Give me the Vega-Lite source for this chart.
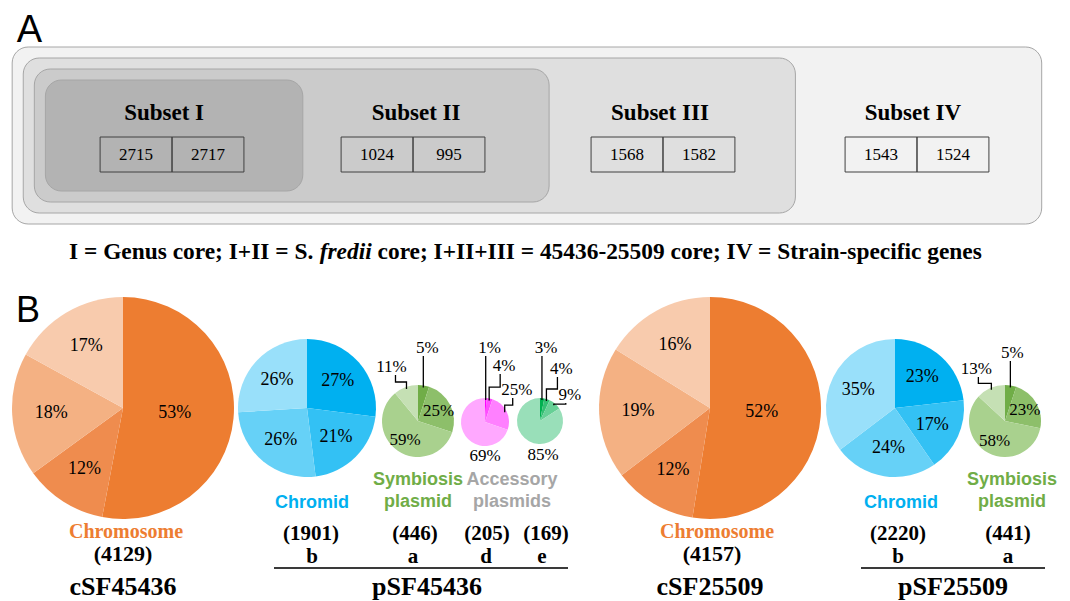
{
"$schema": "https://vega.github.io/schema/vega-lite/v6.json",
"padding": 0,
"background": "white",
"spacing": 0,
"resolve": {"scale": {"color": "independent"}},
"config": {"view": {"stroke": null}},
"datasets": {
 "subsets": [
  {"subset": "I", "level": 1, "sf45436": 2715, "sf25509": 2717},
  {"subset": "II", "level": 2, "sf45436": 1024, "sf25509": 995},
  {"subset": "III", "level": 3, "sf45436": 1568, "sf25509": 1582},
  {"subset": "IV", "level": 4, "sf45436": 1543, "sf25509": 1524}
 ],
 "caption": [
  {"part": 1, "text": "I = Genus core; I+II = S."},
  {"part": 2, "text": "fredii"},
  {"part": 3, "text": "core; I+II+III = 45436-25509 core; IV = Strain-specific genes"}
 ],
 "slices": [
  {"pie": "cSF45436", "subset": "I", "pct": 53}, {"pie": "cSF45436", "subset": "II", "pct": 12}, {"pie": "cSF45436", "subset": "III", "pct": 18}, {"pie": "cSF45436", "subset": "IV", "pct": 17},
  {"pie": "pSF45436b", "subset": "I", "pct": 27}, {"pie": "pSF45436b", "subset": "II", "pct": 21}, {"pie": "pSF45436b", "subset": "III", "pct": 26}, {"pie": "pSF45436b", "subset": "IV", "pct": 26},
  {"pie": "pSF45436a", "subset": "I", "pct": 5}, {"pie": "pSF45436a", "subset": "II", "pct": 25}, {"pie": "pSF45436a", "subset": "III", "pct": 59}, {"pie": "pSF45436a", "subset": "IV", "pct": 11},
  {"pie": "pSF45436d", "subset": "I", "pct": 1}, {"pie": "pSF45436d", "subset": "II", "pct": 4}, {"pie": "pSF45436d", "subset": "III", "pct": 25}, {"pie": "pSF45436d", "subset": "IV", "pct": 69},
  {"pie": "pSF45436e", "subset": "I", "pct": 3}, {"pie": "pSF45436e", "subset": "II", "pct": 4}, {"pie": "pSF45436e", "subset": "III", "pct": 9}, {"pie": "pSF45436e", "subset": "IV", "pct": 85},
  {"pie": "cSF25509", "subset": "I", "pct": 52}, {"pie": "cSF25509", "subset": "II", "pct": 12}, {"pie": "cSF25509", "subset": "III", "pct": 19}, {"pie": "cSF25509", "subset": "IV", "pct": 16},
  {"pie": "pSF25509b", "subset": "I", "pct": 23}, {"pie": "pSF25509b", "subset": "II", "pct": 17}, {"pie": "pSF25509b", "subset": "III", "pct": 24}, {"pie": "pSF25509b", "subset": "IV", "pct": 35},
  {"pie": "pSF25509a", "subset": "I", "pct": 5}, {"pie": "pSF25509a", "subset": "II", "pct": 23}, {"pie": "pSF25509a", "subset": "III", "pct": 58}, {"pie": "pSF25509a", "subset": "IV", "pct": 13}
 ],
 "replicons": [
  {"pie": "cSF45436", "group": "cSF45436", "kind": "Chromosome", "total": 4129, "letter": ""},
  {"pie": "pSF45436b", "group": "pSF45436", "kind": "Chromid", "total": 1901, "letter": "b"},
  {"pie": "pSF45436a", "group": "pSF45436", "kind": "Symbiosis plasmid", "total": 446, "letter": "a"},
  {"pie": "pSF45436d", "group": "pSF45436", "kind": "Accessory plasmids", "total": 205, "letter": "d"},
  {"pie": "pSF45436e", "group": "pSF45436", "kind": "Accessory plasmids", "total": 169, "letter": "e"},
  {"pie": "cSF25509", "group": "cSF25509", "kind": "Chromosome", "total": 4157, "letter": ""},
  {"pie": "pSF25509b", "group": "pSF25509", "kind": "Chromid", "total": 2220, "letter": "b"},
  {"pie": "pSF25509a", "group": "pSF25509", "kind": "Symbiosis plasmid", "total": 441, "letter": "a"}
 ]
},
"vconcat": [
 {
  "width": 1070, "height": 280,
  "encoding": {
   "x": {"field": "px", "type": "quantitative", "axis": null, "scale": {"domain": [-0.2294, 4.1149], "nice": false, "zero": false}},
   "y": {"field": "py", "type": "quantitative", "axis": null, "scale": {"domain": [-135.5, 144.5], "nice": false, "zero": false, "reverse": true}}
  },
  "layer": [
   {"data": {"name": "subsets"},
    "transform": [
     {"calculate": "-0.045*datum.level", "as": "px"},
     {"calculate": "datum.level", "as": "px2"},
     {"calculate": "-(55.5+11*(datum.level-1))", "as": "py"},
     {"calculate": "55.5+11*(datum.level-1)", "as": "py2"}],
    "mark": {"type": "rect", "cornerRadius": 16, "stroke": "#A6A6A6", "strokeWidth": 1},
    "encoding": {"x2": {"field": "px2"}, "y2": {"field": "py2"},
     "color": {"field": "level", "type": "ordinal", "legend": null, "scale": {"domain": [1, 2, 3, 4], "range": ["#B3B3B3", "#CBCBCB", "#DFDFDF", "#F2F2F2"]}},
     "order": {"field": "level", "type": "quantitative", "sort": "descending"}}},
   {"data": {"name": "subsets"},
    "transform": [
     {"calculate": "datum.level + [-0.563, -0.540, -0.550, -0.523][datum.level-1]", "as": "px"},
     {"calculate": "-15.5", "as": "py"},
     {"calculate": "'Subset ' + datum.subset", "as": "title"}],
    "mark": {"type": "text", "font": "Liberation Serif", "fontWeight": "bold", "fontSize": 23, "baseline": "alphabetic", "color": "#000000"},
    "encoding": {"text": {"field": "title", "type": "nominal"}}},
   {"data": {"name": "subsets"},
    "transform": [
     {"fold": ["sf45436", "sf25509"], "as": ["strain", "n"]},
     {"calculate": "datum.strain == 'sf45436' ? 0 : 1", "as": "j"},
     {"calculate": "datum.level + [-0.531, -0.5525, -0.5376, -0.5063][datum.level-1]", "as": "cx"},
     {"calculate": "datum.cx - 0.292 + 0.292*datum.j", "as": "px"},
     {"calculate": "datum.px + 0.292", "as": "px2"},
     {"calculate": "1.5", "as": "py"},
     {"calculate": "36.5", "as": "py2"}],
    "mark": {"type": "rect", "fill": "transparent", "stroke": "#404040", "strokeWidth": 1},
    "encoding": {"x2": {"field": "px2"}, "y2": {"field": "py2"}}},
   {"data": {"name": "subsets"},
    "transform": [
     {"fold": ["sf45436", "sf25509"], "as": ["strain", "n"]},
     {"calculate": "datum.strain == 'sf45436' ? 0 : 1", "as": "j"},
     {"calculate": "datum.level + [-0.531, -0.5525, -0.5376, -0.5063][datum.level-1]", "as": "cx"},
     {"calculate": "datum.cx - 0.146 + 0.292*datum.j", "as": "px"},
     {"calculate": "19", "as": "py"}],
    "mark": {"type": "text", "font": "Liberation Serif", "fontSize": 17, "baseline": "middle", "color": "#000000"},
    "encoding": {"text": {"field": "n", "type": "quantitative", "format": "d"}}},
   {"data": {"values": [{"panel": "A"}]},
    "transform": [{"calculate": "-0.1096", "as": "px"}, {"calculate": "-93.5", "as": "py"}],
    "mark": {"type": "text", "font": "Liberation Sans", "fontSize": 38, "baseline": "alphabetic", "color": "#000000"},
    "encoding": {"text": {"field": "panel", "type": "nominal"}}},
   {"data": {"name": "caption"},
    "transform": [{"filter": "datum.part == 1"}, {"calculate": "0.0508", "as": "px"}, {"calculate": "123.5", "as": "py"}],
    "mark": {"type": "text", "font": "Liberation Serif", "fontWeight": "bold", "fontSize": 23.4, "align": "left", "baseline": "alphabetic", "color": "#000000"},
    "encoding": {"text": {"field": "text", "type": "nominal"}}},
   {"data": {"name": "caption"},
    "transform": [{"filter": "datum.part == 2"}, {"calculate": "1.0686", "as": "px"}, {"calculate": "123.5", "as": "py"}],
    "mark": {"type": "text", "font": "Liberation Serif", "fontWeight": "bold", "fontStyle": "italic", "fontSize": 23.4, "align": "left", "baseline": "alphabetic", "color": "#000000"},
    "encoding": {"text": {"field": "text", "type": "nominal"}}},
   {"data": {"name": "caption"},
    "transform": [{"filter": "datum.part == 3"}, {"calculate": "1.3035", "as": "px"}, {"calculate": "123.5", "as": "py"}],
    "mark": {"type": "text", "font": "Liberation Serif", "fontWeight": "bold", "fontSize": 23.4, "align": "left", "baseline": "alphabetic", "color": "#000000"},
    "encoding": {"text": {"field": "text", "type": "nominal"}}}
  ]
 },
 {
  "hconcat": [
   {
    "width": 246, "height": 321,
    "encoding": {
     "x": {"field": "px", "type": "quantitative", "axis": null, "scale": {"domain": [-123, 123], "nice": false, "zero": false}},
     "y": {"field": "py", "type": "quantitative", "axis": null, "scale": {"domain": [-128, 193], "nice": false, "zero": false, "reverse": true}}
    },
    "layer": [
     {"data": {"name": "slices"},
      "transform": [{"filter": "datum.pie == 'cSF45436'"}, {"stack": "pct", "groupby": ["pie"], "sort": [{"field": "subset", "order": "ascending"}], "offset": "normalize", "as": ["t0", "t1"]}, {"calculate": "0", "as": "px"}, {"calculate": "0", "as": "py"}],
      "mark": {"type": "arc", "outerRadius": 111},
      "encoding": {"theta": {"field": "t0", "type": "quantitative", "scale": {"domain": [0, 1]}}, "theta2": {"field": "t1"},
       "color": {"field": "subset", "type": "nominal", "legend": null, "scale": {"domain": ["I", "II", "III", "IV"], "range": ["#ED7D31", "#EF8C4E", "#F4B183", "#F8CBAD"]}}}},
     {"data": {"name": "slices"},
      "transform": [{"filter": "datum.pie == 'cSF45436'"}, {"stack": "pct", "groupby": ["pie"], "sort": [{"field": "subset", "order": "ascending"}], "offset": "normalize", "as": ["t0", "t1"]}, {"calculate": "PI*(datum.t0+datum.t1)", "as": "a"}, {"calculate": "(datum.pct > 40 ? 52 : 72)*sin(datum.a)", "as": "px"}, {"calculate": "-(datum.pct > 40 ? 52 : 72)*cos(datum.a)", "as": "py"}, {"calculate": "datum.pct + '%'", "as": "label"}],
      "mark": {"type": "text", "font": "Liberation Serif", "fontSize": 18, "baseline": "middle", "color": "#000000"},
      "encoding": {"text": {"field": "label", "type": "nominal"}}},
     {"data": {"name": "replicons"},
      "transform": [{"filter": "datum.pie == 'cSF45436'"}, {"calculate": "3", "as": "px"}, {"calculate": "130", "as": "py"}],
      "mark": {"type": "text", "font": "Liberation Serif", "fontWeight": "bold", "fontSize": 20, "baseline": "alphabetic", "color": "#ED7D31"},
      "encoding": {"text": {"field": "kind", "type": "nominal"}}},
     {"data": {"name": "replicons"},
      "transform": [{"filter": "datum.pie == 'cSF45436'"}, {"calculate": "'(' + datum.total + ')'", "as": "count"}, {"calculate": "0", "as": "px"}, {"calculate": "153", "as": "py"}],
      "mark": {"type": "text", "font": "Liberation Serif", "fontWeight": "bold", "fontSize": 22, "baseline": "alphabetic", "color": "#000000"},
      "encoding": {"text": {"field": "count", "type": "nominal"}}},
     {"data": {"name": "replicons"},
      "transform": [{"filter": "datum.group == 'cSF45436'"}, {"aggregate": [{"op": "count", "as": "n"}], "groupby": ["group"]}, {"calculate": "0", "as": "px"}, {"calculate": "187", "as": "py"}],
      "mark": {"type": "text", "font": "Liberation Serif", "fontWeight": "bold", "fontSize": 26, "baseline": "alphabetic", "color": "#000000"},
      "encoding": {"text": {"field": "group", "type": "nominal"}}},
     {"data": {"values": [{"panel": "B"}]},
      "transform": [{"calculate": "-95", "as": "px"}, {"calculate": "-86", "as": "py"}],
      "mark": {"type": "text", "font": "Liberation Sans", "fontSize": 36, "baseline": "alphabetic", "color": "#000000"},
      "encoding": {"text": {"field": "panel", "type": "nominal"}}}
    ]
   },
   {
    "width": 122, "height": 321,
    "encoding": {
     "x": {"field": "px", "type": "quantitative", "axis": null, "scale": {"domain": [-61, 61], "nice": false, "zero": false}},
     "y": {"field": "py", "type": "quantitative", "axis": null, "scale": {"domain": [-128, 193], "nice": false, "zero": false, "reverse": true}}
    },
    "layer": [
     {"data": {"name": "slices"},
      "transform": [{"filter": "datum.pie == 'pSF45436b'"}, {"stack": "pct", "groupby": ["pie"], "sort": [{"field": "subset", "order": "ascending"}], "offset": "normalize", "as": ["t0", "t1"]}, {"calculate": "0", "as": "px"}, {"calculate": "0", "as": "py"}],
      "mark": {"type": "arc", "outerRadius": 69},
      "encoding": {"theta": {"field": "t0", "type": "quantitative", "scale": {"domain": [0, 1]}}, "theta2": {"field": "t1"},
       "color": {"field": "subset", "type": "nominal", "legend": null, "scale": {"domain": ["I", "II", "III", "IV"], "range": ["#00B0F0", "#33C1F4", "#66D1F7", "#99E0FA"]}}}},
     {"data": {"name": "slices"},
      "transform": [{"filter": "datum.pie == 'pSF45436b'"}, {"stack": "pct", "groupby": ["pie"], "sort": [{"field": "subset", "order": "ascending"}], "offset": "normalize", "as": ["t0", "t1"]}, {"calculate": "PI*(datum.t0+datum.t1)", "as": "a"}, {"calculate": "41*sin(datum.a)", "as": "px"}, {"calculate": "-41*cos(datum.a)", "as": "py"}, {"calculate": "datum.pct + '%'", "as": "label"}],
      "mark": {"type": "text", "font": "Liberation Serif", "fontSize": 18, "baseline": "middle", "color": "#000000"},
      "encoding": {"text": {"field": "label", "type": "nominal"}}},
     {"data": {"name": "replicons"},
      "transform": [{"filter": "datum.pie == 'pSF45436b'"}, {"calculate": "5", "as": "px"}, {"calculate": "100", "as": "py"}],
      "mark": {"type": "text", "font": "Liberation Sans", "fontWeight": "bold", "fontSize": 18, "baseline": "alphabetic", "color": "#00B0F0"},
      "encoding": {"text": {"field": "kind", "type": "nominal"}}},
     {"data": {"name": "replicons"},
      "transform": [{"filter": "datum.pie == 'pSF45436b'"}, {"calculate": "'(' + datum.total + ')'", "as": "count"}, {"calculate": "4", "as": "px"}, {"calculate": "132", "as": "py"}],
      "mark": {"type": "text", "font": "Liberation Serif", "fontWeight": "bold", "fontSize": 21, "baseline": "alphabetic", "color": "#000000"},
      "encoding": {"text": {"field": "count", "type": "nominal"}}},
     {"data": {"name": "replicons"},
      "transform": [{"filter": "datum.pie == 'pSF45436b'"}, {"calculate": "5", "as": "px"}, {"calculate": "155", "as": "py"}],
      "mark": {"type": "text", "font": "Liberation Serif", "fontWeight": "bold", "fontSize": 21, "baseline": "alphabetic", "color": "#000000"},
      "encoding": {"text": {"field": "letter", "type": "nominal"}}},
     {"data": {"name": "replicons"},
      "transform": [{"filter": "datum.group == 'pSF45436'"}, {"aggregate": [{"op": "count", "as": "n"}], "groupby": ["group"]}, {"filter": "datum.n > 1"}, {"calculate": "-33", "as": "px"}, {"calculate": "261", "as": "px2"}, {"calculate": "160", "as": "py"}],
      "mark": {"type": "rule", "color": "#3A3A3A", "strokeWidth": 2},
      "encoding": {"x2": {"field": "px2"}}},
     {"data": {"name": "replicons"},
      "transform": [{"filter": "datum.group == 'pSF45436'"}, {"aggregate": [{"op": "count", "as": "n"}], "groupby": ["group"]}, {"calculate": "120", "as": "px"}, {"calculate": "187", "as": "py"}],
      "mark": {"type": "text", "font": "Liberation Serif", "fontWeight": "bold", "fontSize": 26, "baseline": "alphabetic", "color": "#000000"},
      "encoding": {"text": {"field": "group", "type": "nominal"}}}
    ]
   },
   {
    "width": 100, "height": 321,
    "encoding": {
     "x": {"field": "px", "type": "quantitative", "axis": null, "scale": {"domain": [-50, 50], "nice": false, "zero": false}},
     "y": {"field": "py", "type": "quantitative", "axis": null, "scale": {"domain": [-141, 180], "nice": false, "zero": false, "reverse": true}}
    },
    "layer": [
     {"data": {"name": "slices"},
      "transform": [{"filter": "datum.pie == 'pSF45436a'"}, {"stack": "pct", "groupby": ["pie"], "sort": [{"field": "subset", "order": "ascending"}], "offset": "normalize", "as": ["t0", "t1"]}, {"calculate": "0", "as": "px"}, {"calculate": "0", "as": "py"}],
      "mark": {"type": "arc", "outerRadius": 36},
      "encoding": {"theta": {"field": "t0", "type": "quantitative", "scale": {"domain": [0, 1]}}, "theta2": {"field": "t1"},
       "color": {"field": "subset", "type": "nominal", "legend": null, "scale": {"domain": ["I", "II", "III", "IV"], "range": ["#70AD47", "#8DBF6A", "#A9D18E", "#C5E0B4"]}}}},
     {"data": {"name": "slices"},
      "transform": [{"filter": "datum.pie == 'pSF45436a'"}, {"stack": "pct", "groupby": ["pie"], "sort": [{"field": "subset", "order": "ascending"}], "offset": "normalize", "as": ["t0", "t1"]}, {"calculate": "PI*(datum.t0+datum.t1)", "as": "a"}, {"filter": "datum.pct >= 15"}, {"calculate": "23*sin(datum.a)", "as": "px"}, {"calculate": "-23*cos(datum.a)", "as": "py"}, {"calculate": "datum.pct + '%'", "as": "label"}],
      "mark": {"type": "text", "font": "Liberation Serif", "fontSize": 17, "baseline": "middle", "color": "#000000"},
      "encoding": {"text": {"field": "label", "type": "nominal"}}},
     {"data": {"name": "slices"},
      "transform": [{"filter": "datum.pie == 'pSF45436a'"}, {"stack": "pct", "groupby": ["pie"], "sort": [{"field": "subset", "order": "ascending"}], "offset": "normalize", "as": ["t0", "t1"]}, {"calculate": "PI*(datum.t0+datum.t1)", "as": "a"}, {"filter": "datum.pct < 15"}, {"calculate": "min(datum.a, 2*PI - datum.a)", "as": "dist"}, {"window": [{"op": "row_number", "as": "rn"}], "sort": [{"field": "dist", "order": "ascending"}], "groupby": ["pie"]}, {"calculate": "datum.a < PI ? 1 : -1", "as": "side"}, {"calculate": "34*sin(datum.a)", "as": "sx"}, {"calculate": "-34*cos(datum.a)", "as": "sy"}, {"calculate": "datum.sx + datum.side*[4,15,12][datum.rn-1]", "as": "lx"}, {"calculate": "[-73,-54,-30][datum.rn-1]", "as": "ly"}, {"calculate": "datum.lx", "as": "px"}, {"calculate": "datum.ly", "as": "py"}, {"calculate": "datum.pct + '%'", "as": "label"}],
      "mark": {"type": "text", "font": "Liberation Serif", "fontSize": 17, "baseline": "middle", "color": "#000000"},
      "encoding": {"text": {"field": "label", "type": "nominal"}}},
     {"data": {"name": "slices"},
      "transform": [{"filter": "datum.pie == 'pSF45436a'"}, {"stack": "pct", "groupby": ["pie"], "sort": [{"field": "subset", "order": "ascending"}], "offset": "normalize", "as": ["t0", "t1"]}, {"calculate": "PI*(datum.t0+datum.t1)", "as": "a"}, {"filter": "datum.pct < 15"}, {"calculate": "min(datum.a, 2*PI - datum.a)", "as": "dist"}, {"window": [{"op": "row_number", "as": "rn"}], "sort": [{"field": "dist", "order": "ascending"}], "groupby": ["pie"]}, {"calculate": "datum.a < PI ? 1 : -1", "as": "side"}, {"calculate": "34*sin(datum.a)", "as": "sx"}, {"calculate": "-34*cos(datum.a)", "as": "sy"}, {"calculate": "datum.sx + datum.side*[4,15,12][datum.rn-1]", "as": "lx"}, {"calculate": "[-73,-54,-30][datum.rn-1]", "as": "ly"}, {"calculate": "(datum.sy + datum.ly + 8)/2", "as": "ey"}, {"calculate": "datum.lx - datum.side*4", "as": "vx"}, {"calculate": "[0,1,2,3]", "as": "pt"}, {"flatten": ["pt"]}, {"calculate": "datum.pt < 2 ? datum.sx : datum.vx", "as": "px"}, {"calculate": "datum.pt == 0 ? datum.sy : (datum.pt == 3 ? datum.ly + 8 : datum.ey)", "as": "py"}],
      "mark": {"type": "line", "color": "#000000", "strokeWidth": 1.3},
      "encoding": {"detail": {"field": "subset", "type": "nominal"}, "order": {"field": "pt", "type": "quantitative"}}},
     {"data": {"name": "replicons"},
      "transform": [{"filter": "datum.pie == 'pSF45436a'"}, {"calculate": "0", "as": "px"}, {"calculate": "64", "as": "py"}],
      "mark": {"type": "text", "font": "Liberation Sans", "fontWeight": "bold", "fontSize": 18, "baseline": "alphabetic", "lineBreak": " ", "lineHeight": 22, "color": "#70AD47"},
      "encoding": {"text": {"field": "kind", "type": "nominal"}}},
     {"data": {"name": "replicons"},
      "transform": [{"filter": "datum.pie == 'pSF45436a'"}, {"calculate": "'(' + datum.total + ')'", "as": "count"}, {"calculate": "-3", "as": "px"}, {"calculate": "119", "as": "py"}],
      "mark": {"type": "text", "font": "Liberation Serif", "fontWeight": "bold", "fontSize": 21, "baseline": "alphabetic", "color": "#000000"},
      "encoding": {"text": {"field": "count", "type": "nominal"}}},
     {"data": {"name": "replicons"},
      "transform": [{"filter": "datum.pie == 'pSF45436a'"}, {"calculate": "-5", "as": "px"}, {"calculate": "142", "as": "py"}],
      "mark": {"type": "text", "font": "Liberation Serif", "fontWeight": "bold", "fontSize": 21, "baseline": "alphabetic", "color": "#000000"},
      "encoding": {"text": {"field": "letter", "type": "nominal"}}}
    ]
   },
   {
    "width": 34, "height": 321,
    "encoding": {
     "x": {"field": "px", "type": "quantitative", "axis": null, "scale": {"domain": [-17, 17], "nice": false, "zero": false}},
     "y": {"field": "py", "type": "quantitative", "axis": null, "scale": {"domain": [-142, 179], "nice": false, "zero": false, "reverse": true}}
    },
    "layer": [
     {"data": {"name": "slices"},
      "transform": [{"filter": "datum.pie == 'pSF45436d'"}, {"stack": "pct", "groupby": ["pie"], "sort": [{"field": "subset", "order": "ascending"}], "offset": "normalize", "as": ["t0", "t1"]}, {"calculate": "0", "as": "px"}, {"calculate": "0", "as": "py"}],
      "mark": {"type": "arc", "outerRadius": 24},
      "encoding": {"theta": {"field": "t0", "type": "quantitative", "scale": {"domain": [0, 1]}}, "theta2": {"field": "t1"},
       "color": {"field": "subset", "type": "nominal", "legend": null, "scale": {"domain": ["I", "II", "III", "IV"], "range": ["#FF00FF", "#FF4DFF", "#FF80FF", "#FFA8FF"]}}}},
     {"data": {"name": "slices"},
      "transform": [{"filter": "datum.pie == 'pSF45436d'"}, {"filter": "datum.pct >= 50"}, {"calculate": "0", "as": "px"}, {"calculate": "34", "as": "py"}, {"calculate": "datum.pct + '%'", "as": "label"}],
      "mark": {"type": "text", "font": "Liberation Serif", "fontSize": 17, "baseline": "middle", "color": "#000000"},
      "encoding": {"text": {"field": "label", "type": "nominal"}}},
     {"data": {"name": "slices"},
      "transform": [{"filter": "datum.pie == 'pSF45436d'"}, {"stack": "pct", "groupby": ["pie"], "sort": [{"field": "subset", "order": "ascending"}], "offset": "normalize", "as": ["t0", "t1"]}, {"calculate": "PI*(datum.t0+datum.t1)", "as": "a"}, {"filter": "datum.pct < 50"}, {"calculate": "min(datum.a, 2*PI - datum.a)", "as": "dist"}, {"window": [{"op": "row_number", "as": "rn"}], "sort": [{"field": "dist", "order": "ascending"}], "groupby": ["pie"]}, {"calculate": "datum.a < PI ? 1 : -1", "as": "side"}, {"calculate": "22*sin(datum.a)", "as": "sx"}, {"calculate": "-22*cos(datum.a)", "as": "sy"}, {"calculate": "datum.sx + datum.side*[4,15,12][datum.rn-1]", "as": "lx"}, {"calculate": "[-74,-56,-32][datum.rn-1]", "as": "ly"}, {"calculate": "datum.lx", "as": "px"}, {"calculate": "datum.ly", "as": "py"}, {"calculate": "datum.pct + '%'", "as": "label"}],
      "mark": {"type": "text", "font": "Liberation Serif", "fontSize": 17, "baseline": "middle", "color": "#000000"},
      "encoding": {"text": {"field": "label", "type": "nominal"}}},
     {"data": {"name": "slices"},
      "transform": [{"filter": "datum.pie == 'pSF45436d'"}, {"stack": "pct", "groupby": ["pie"], "sort": [{"field": "subset", "order": "ascending"}], "offset": "normalize", "as": ["t0", "t1"]}, {"calculate": "PI*(datum.t0+datum.t1)", "as": "a"}, {"filter": "datum.pct < 50"}, {"calculate": "min(datum.a, 2*PI - datum.a)", "as": "dist"}, {"window": [{"op": "row_number", "as": "rn"}], "sort": [{"field": "dist", "order": "ascending"}], "groupby": ["pie"]}, {"calculate": "datum.a < PI ? 1 : -1", "as": "side"}, {"calculate": "22*sin(datum.a)", "as": "sx"}, {"calculate": "-22*cos(datum.a)", "as": "sy"}, {"calculate": "datum.sx + datum.side*[4,15,12][datum.rn-1]", "as": "lx"}, {"calculate": "[-74,-56,-32][datum.rn-1]", "as": "ly"}, {"calculate": "(datum.sy + datum.ly + 8)/2", "as": "ey"}, {"calculate": "datum.lx - datum.side*4", "as": "vx"}, {"calculate": "[0,1,2,3]", "as": "pt"}, {"flatten": ["pt"]}, {"calculate": "datum.pt < 2 ? datum.sx : datum.vx", "as": "px"}, {"calculate": "datum.pt == 0 ? datum.sy : (datum.pt == 3 ? datum.ly + 8 : datum.ey)", "as": "py"}],
      "mark": {"type": "line", "color": "#000000", "strokeWidth": 1.3},
      "encoding": {"detail": {"field": "subset", "type": "nominal"}, "order": {"field": "pt", "type": "quantitative"}}},
     {"data": {"name": "replicons"},
      "transform": [{"filter": "datum.pie == 'pSF45436d'"}, {"calculate": "27", "as": "px"}, {"calculate": "63", "as": "py"}],
      "mark": {"type": "text", "font": "Liberation Sans", "fontWeight": "bold", "fontSize": 18, "baseline": "alphabetic", "lineBreak": " ", "lineHeight": 22, "color": "#A6A6A6"},
      "encoding": {"text": {"field": "kind", "type": "nominal"}}},
     {"data": {"name": "replicons"},
      "transform": [{"filter": "datum.pie == 'pSF45436d'"}, {"calculate": "'(' + datum.total + ')'", "as": "count"}, {"calculate": "2", "as": "px"}, {"calculate": "118", "as": "py"}],
      "mark": {"type": "text", "font": "Liberation Serif", "fontWeight": "bold", "fontSize": 21, "baseline": "alphabetic", "color": "#000000"},
      "encoding": {"text": {"field": "count", "type": "nominal"}}},
     {"data": {"name": "replicons"},
      "transform": [{"filter": "datum.pie == 'pSF45436d'"}, {"calculate": "1", "as": "px"}, {"calculate": "141", "as": "py"}],
      "mark": {"type": "text", "font": "Liberation Serif", "fontWeight": "bold", "fontSize": 21, "baseline": "alphabetic", "color": "#000000"},
      "encoding": {"text": {"field": "letter", "type": "nominal"}}}
    ]
   },
   {
    "width": 76, "height": 321,
    "encoding": {
     "x": {"field": "px", "type": "quantitative", "axis": null, "scale": {"domain": [-38, 38], "nice": false, "zero": false}},
     "y": {"field": "py", "type": "quantitative", "axis": null, "scale": {"domain": [-141, 180], "nice": false, "zero": false, "reverse": true}}
    },
    "layer": [
     {"data": {"name": "slices"},
      "transform": [{"filter": "datum.pie == 'pSF45436e'"}, {"stack": "pct", "groupby": ["pie"], "sort": [{"field": "subset", "order": "ascending"}], "offset": "normalize", "as": ["t0", "t1"]}, {"calculate": "0", "as": "px"}, {"calculate": "0", "as": "py"}],
      "mark": {"type": "arc", "outerRadius": 23},
      "encoding": {"theta": {"field": "t0", "type": "quantitative", "scale": {"domain": [0, 1]}}, "theta2": {"field": "t1"},
       "color": {"field": "subset", "type": "nominal", "legend": null, "scale": {"domain": ["I", "II", "III", "IV"], "range": ["#00B050", "#33C073", "#66D096", "#99DFB9"]}}}},
     {"data": {"name": "slices"},
      "transform": [{"filter": "datum.pie == 'pSF45436e'"}, {"filter": "datum.pct >= 50"}, {"calculate": "3", "as": "px"}, {"calculate": "34", "as": "py"}, {"calculate": "datum.pct + '%'", "as": "label"}],
      "mark": {"type": "text", "font": "Liberation Serif", "fontSize": 17, "baseline": "middle", "color": "#000000"},
      "encoding": {"text": {"field": "label", "type": "nominal"}}},
     {"data": {"name": "slices"},
      "transform": [{"filter": "datum.pie == 'pSF45436e'"}, {"stack": "pct", "groupby": ["pie"], "sort": [{"field": "subset", "order": "ascending"}], "offset": "normalize", "as": ["t0", "t1"]}, {"calculate": "PI*(datum.t0+datum.t1)", "as": "a"}, {"filter": "datum.pct < 50"}, {"calculate": "min(datum.a, 2*PI - datum.a)", "as": "dist"}, {"window": [{"op": "row_number", "as": "rn"}], "sort": [{"field": "dist", "order": "ascending"}], "groupby": ["pie"]}, {"calculate": "datum.a < PI ? 1 : -1", "as": "side"}, {"calculate": "21*sin(datum.a)", "as": "sx"}, {"calculate": "-21*cos(datum.a)", "as": "sy"}, {"calculate": "datum.sx + datum.side*[4,15,16][datum.rn-1]", "as": "lx"}, {"calculate": "[-73,-52,-26][datum.rn-1]", "as": "ly"}, {"calculate": "datum.lx", "as": "px"}, {"calculate": "datum.ly", "as": "py"}, {"calculate": "datum.pct + '%'", "as": "label"}],
      "mark": {"type": "text", "font": "Liberation Serif", "fontSize": 17, "baseline": "middle", "color": "#000000"},
      "encoding": {"text": {"field": "label", "type": "nominal"}}},
     {"data": {"name": "slices"},
      "transform": [{"filter": "datum.pie == 'pSF45436e'"}, {"stack": "pct", "groupby": ["pie"], "sort": [{"field": "subset", "order": "ascending"}], "offset": "normalize", "as": ["t0", "t1"]}, {"calculate": "PI*(datum.t0+datum.t1)", "as": "a"}, {"filter": "datum.pct < 50"}, {"calculate": "min(datum.a, 2*PI - datum.a)", "as": "dist"}, {"window": [{"op": "row_number", "as": "rn"}], "sort": [{"field": "dist", "order": "ascending"}], "groupby": ["pie"]}, {"calculate": "datum.a < PI ? 1 : -1", "as": "side"}, {"calculate": "21*sin(datum.a)", "as": "sx"}, {"calculate": "-21*cos(datum.a)", "as": "sy"}, {"calculate": "datum.sx + datum.side*[4,15,16][datum.rn-1]", "as": "lx"}, {"calculate": "[-73,-52,-26][datum.rn-1]", "as": "ly"}, {"calculate": "(datum.sy + datum.ly + 8)/2", "as": "ey"}, {"calculate": "datum.lx - datum.side*4", "as": "vx"}, {"calculate": "[0,1,2,3]", "as": "pt"}, {"flatten": ["pt"]}, {"calculate": "datum.pt < 2 ? datum.sx : datum.vx", "as": "px"}, {"calculate": "datum.pt == 0 ? datum.sy : (datum.pt == 3 ? datum.ly + 8 : datum.ey)", "as": "py"}],
      "mark": {"type": "line", "color": "#000000", "strokeWidth": 1.3},
      "encoding": {"detail": {"field": "subset", "type": "nominal"}, "order": {"field": "pt", "type": "quantitative"}}},
     {"data": {"name": "replicons"},
      "transform": [{"filter": "datum.pie == 'pSF45436e'"}, {"calculate": "'(' + datum.total + ')'", "as": "count"}, {"calculate": "6", "as": "px"}, {"calculate": "119", "as": "py"}],
      "mark": {"type": "text", "font": "Liberation Serif", "fontWeight": "bold", "fontSize": 21, "baseline": "alphabetic", "color": "#000000"},
      "encoding": {"text": {"field": "count", "type": "nominal"}}},
     {"data": {"name": "replicons"},
      "transform": [{"filter": "datum.pie == 'pSF45436e'"}, {"calculate": "2", "as": "px"}, {"calculate": "142", "as": "py"}],
      "mark": {"type": "text", "font": "Liberation Serif", "fontWeight": "bold", "fontSize": 21, "baseline": "alphabetic", "color": "#000000"},
      "encoding": {"text": {"field": "letter", "type": "nominal"}}}
    ]
   },
   {
    "width": 264, "height": 321,
    "encoding": {
     "x": {"field": "px", "type": "quantitative", "axis": null, "scale": {"domain": [-132, 132], "nice": false, "zero": false}},
     "y": {"field": "py", "type": "quantitative", "axis": null, "scale": {"domain": [-128, 193], "nice": false, "zero": false, "reverse": true}}
    },
    "layer": [
     {"data": {"name": "slices"},
      "transform": [{"filter": "datum.pie == 'cSF25509'"}, {"stack": "pct", "groupby": ["pie"], "sort": [{"field": "subset", "order": "ascending"}], "offset": "normalize", "as": ["t0", "t1"]}, {"calculate": "0", "as": "px"}, {"calculate": "0", "as": "py"}],
      "mark": {"type": "arc", "outerRadius": 111},
      "encoding": {"theta": {"field": "t0", "type": "quantitative", "scale": {"domain": [0, 1]}}, "theta2": {"field": "t1"},
       "color": {"field": "subset", "type": "nominal", "legend": null, "scale": {"domain": ["I", "II", "III", "IV"], "range": ["#ED7D31", "#EF8C4E", "#F4B183", "#F8CBAD"]}}}},
     {"data": {"name": "slices"},
      "transform": [{"filter": "datum.pie == 'cSF25509'"}, {"stack": "pct", "groupby": ["pie"], "sort": [{"field": "subset", "order": "ascending"}], "offset": "normalize", "as": ["t0", "t1"]}, {"calculate": "PI*(datum.t0+datum.t1)", "as": "a"}, {"calculate": "(datum.pct > 40 ? 52 : 72)*sin(datum.a)", "as": "px"}, {"calculate": "-(datum.pct > 40 ? 52 : 72)*cos(datum.a)", "as": "py"}, {"calculate": "datum.pct + '%'", "as": "label"}],
      "mark": {"type": "text", "font": "Liberation Serif", "fontSize": 18, "baseline": "middle", "color": "#000000"},
      "encoding": {"text": {"field": "label", "type": "nominal"}}},
     {"data": {"name": "replicons"},
      "transform": [{"filter": "datum.pie == 'cSF25509'"}, {"calculate": "7", "as": "px"}, {"calculate": "130", "as": "py"}],
      "mark": {"type": "text", "font": "Liberation Serif", "fontWeight": "bold", "fontSize": 20, "baseline": "alphabetic", "color": "#ED7D31"},
      "encoding": {"text": {"field": "kind", "type": "nominal"}}},
     {"data": {"name": "replicons"},
      "transform": [{"filter": "datum.pie == 'cSF25509'"}, {"calculate": "'(' + datum.total + ')'", "as": "count"}, {"calculate": "2", "as": "px"}, {"calculate": "153", "as": "py"}],
      "mark": {"type": "text", "font": "Liberation Serif", "fontWeight": "bold", "fontSize": 22, "baseline": "alphabetic", "color": "#000000"},
      "encoding": {"text": {"field": "count", "type": "nominal"}}},
     {"data": {"name": "replicons"},
      "transform": [{"filter": "datum.group == 'cSF25509'"}, {"aggregate": [{"op": "count", "as": "n"}], "groupby": ["group"]}, {"calculate": "0", "as": "px"}, {"calculate": "187", "as": "py"}],
      "mark": {"type": "text", "font": "Liberation Serif", "fontWeight": "bold", "fontSize": 26, "baseline": "alphabetic", "color": "#000000"},
      "encoding": {"text": {"field": "group", "type": "nominal"}}}
    ]
   },
   {
    "width": 106, "height": 321,
    "encoding": {
     "x": {"field": "px", "type": "quantitative", "axis": null, "scale": {"domain": [-53, 53], "nice": false, "zero": false}},
     "y": {"field": "py", "type": "quantitative", "axis": null, "scale": {"domain": [-128, 193], "nice": false, "zero": false, "reverse": true}}
    },
    "layer": [
     {"data": {"name": "slices"},
      "transform": [{"filter": "datum.pie == 'pSF25509b'"}, {"stack": "pct", "groupby": ["pie"], "sort": [{"field": "subset", "order": "ascending"}], "offset": "normalize", "as": ["t0", "t1"]}, {"calculate": "0", "as": "px"}, {"calculate": "0", "as": "py"}],
      "mark": {"type": "arc", "outerRadius": 69},
      "encoding": {"theta": {"field": "t0", "type": "quantitative", "scale": {"domain": [0, 1]}}, "theta2": {"field": "t1"},
       "color": {"field": "subset", "type": "nominal", "legend": null, "scale": {"domain": ["I", "II", "III", "IV"], "range": ["#00B0F0", "#33C1F4", "#66D1F7", "#99E0FA"]}}}},
     {"data": {"name": "slices"},
      "transform": [{"filter": "datum.pie == 'pSF25509b'"}, {"stack": "pct", "groupby": ["pie"], "sort": [{"field": "subset", "order": "ascending"}], "offset": "normalize", "as": ["t0", "t1"]}, {"calculate": "PI*(datum.t0+datum.t1)", "as": "a"}, {"calculate": "41*sin(datum.a)", "as": "px"}, {"calculate": "-41*cos(datum.a)", "as": "py"}, {"calculate": "datum.pct + '%'", "as": "label"}],
      "mark": {"type": "text", "font": "Liberation Serif", "fontSize": 18, "baseline": "middle", "color": "#000000"},
      "encoding": {"text": {"field": "label", "type": "nominal"}}},
     {"data": {"name": "replicons"},
      "transform": [{"filter": "datum.pie == 'pSF25509b'"}, {"calculate": "6", "as": "px"}, {"calculate": "100", "as": "py"}],
      "mark": {"type": "text", "font": "Liberation Sans", "fontWeight": "bold", "fontSize": 18, "baseline": "alphabetic", "color": "#00B0F0"},
      "encoding": {"text": {"field": "kind", "type": "nominal"}}},
     {"data": {"name": "replicons"},
      "transform": [{"filter": "datum.pie == 'pSF25509b'"}, {"calculate": "'(' + datum.total + ')'", "as": "count"}, {"calculate": "3", "as": "px"}, {"calculate": "132", "as": "py"}],
      "mark": {"type": "text", "font": "Liberation Serif", "fontWeight": "bold", "fontSize": 21, "baseline": "alphabetic", "color": "#000000"},
      "encoding": {"text": {"field": "count", "type": "nominal"}}},
     {"data": {"name": "replicons"},
      "transform": [{"filter": "datum.pie == 'pSF25509b'"}, {"calculate": "3", "as": "px"}, {"calculate": "155", "as": "py"}],
      "mark": {"type": "text", "font": "Liberation Serif", "fontWeight": "bold", "fontSize": 21, "baseline": "alphabetic", "color": "#000000"},
      "encoding": {"text": {"field": "letter", "type": "nominal"}}},
     {"data": {"name": "replicons"},
      "transform": [{"filter": "datum.group == 'pSF25509'"}, {"aggregate": [{"op": "count", "as": "n"}], "groupby": ["group"]}, {"filter": "datum.n > 1"}, {"calculate": "-34", "as": "px"}, {"calculate": "150", "as": "px2"}, {"calculate": "160", "as": "py"}],
      "mark": {"type": "rule", "color": "#3A3A3A", "strokeWidth": 2},
      "encoding": {"x2": {"field": "px2"}}},
     {"data": {"name": "replicons"},
      "transform": [{"filter": "datum.group == 'pSF25509'"}, {"aggregate": [{"op": "count", "as": "n"}], "groupby": ["group"]}, {"calculate": "58", "as": "px"}, {"calculate": "187", "as": "py"}],
      "mark": {"type": "text", "font": "Liberation Serif", "fontWeight": "bold", "fontSize": 26, "baseline": "alphabetic", "color": "#000000"},
      "encoding": {"text": {"field": "group", "type": "nominal"}}}
    ]
   },
   {
    "width": 114, "height": 321,
    "encoding": {
     "x": {"field": "px", "type": "quantitative", "axis": null, "scale": {"domain": [-57, 57], "nice": false, "zero": false}},
     "y": {"field": "py", "type": "quantitative", "axis": null, "scale": {"domain": [-141, 180], "nice": false, "zero": false, "reverse": true}}
    },
    "layer": [
     {"data": {"name": "slices"},
      "transform": [{"filter": "datum.pie == 'pSF25509a'"}, {"stack": "pct", "groupby": ["pie"], "sort": [{"field": "subset", "order": "ascending"}], "offset": "normalize", "as": ["t0", "t1"]}, {"calculate": "0", "as": "px"}, {"calculate": "0", "as": "py"}],
      "mark": {"type": "arc", "outerRadius": 36},
      "encoding": {"theta": {"field": "t0", "type": "quantitative", "scale": {"domain": [0, 1]}}, "theta2": {"field": "t1"},
       "color": {"field": "subset", "type": "nominal", "legend": null, "scale": {"domain": ["I", "II", "III", "IV"], "range": ["#70AD47", "#8DBF6A", "#A9D18E", "#C5E0B4"]}}}},
     {"data": {"name": "slices"},
      "transform": [{"filter": "datum.pie == 'pSF25509a'"}, {"stack": "pct", "groupby": ["pie"], "sort": [{"field": "subset", "order": "ascending"}], "offset": "normalize", "as": ["t0", "t1"]}, {"calculate": "PI*(datum.t0+datum.t1)", "as": "a"}, {"filter": "datum.pct >= 15"}, {"calculate": "23*sin(datum.a)", "as": "px"}, {"calculate": "-23*cos(datum.a)", "as": "py"}, {"calculate": "datum.pct + '%'", "as": "label"}],
      "mark": {"type": "text", "font": "Liberation Serif", "fontSize": 17, "baseline": "middle", "color": "#000000"},
      "encoding": {"text": {"field": "label", "type": "nominal"}}},
     {"data": {"name": "slices"},
      "transform": [{"filter": "datum.pie == 'pSF25509a'"}, {"stack": "pct", "groupby": ["pie"], "sort": [{"field": "subset", "order": "ascending"}], "offset": "normalize", "as": ["t0", "t1"]}, {"calculate": "PI*(datum.t0+datum.t1)", "as": "a"}, {"filter": "datum.pct < 15"}, {"calculate": "min(datum.a, 2*PI - datum.a)", "as": "dist"}, {"window": [{"op": "row_number", "as": "rn"}], "sort": [{"field": "dist", "order": "ascending"}], "groupby": ["pie"]}, {"calculate": "datum.a < PI ? 1 : -1", "as": "side"}, {"calculate": "34*sin(datum.a)", "as": "sx"}, {"calculate": "-34*cos(datum.a)", "as": "sy"}, {"calculate": "datum.sx + datum.side*[2,15,12][datum.rn-1]", "as": "lx"}, {"calculate": "[-68,-52,-30][datum.rn-1]", "as": "ly"}, {"calculate": "datum.lx", "as": "px"}, {"calculate": "datum.ly", "as": "py"}, {"calculate": "datum.pct + '%'", "as": "label"}],
      "mark": {"type": "text", "font": "Liberation Serif", "fontSize": 17, "baseline": "middle", "color": "#000000"},
      "encoding": {"text": {"field": "label", "type": "nominal"}}},
     {"data": {"name": "slices"},
      "transform": [{"filter": "datum.pie == 'pSF25509a'"}, {"stack": "pct", "groupby": ["pie"], "sort": [{"field": "subset", "order": "ascending"}], "offset": "normalize", "as": ["t0", "t1"]}, {"calculate": "PI*(datum.t0+datum.t1)", "as": "a"}, {"filter": "datum.pct < 15"}, {"calculate": "min(datum.a, 2*PI - datum.a)", "as": "dist"}, {"window": [{"op": "row_number", "as": "rn"}], "sort": [{"field": "dist", "order": "ascending"}], "groupby": ["pie"]}, {"calculate": "datum.a < PI ? 1 : -1", "as": "side"}, {"calculate": "34*sin(datum.a)", "as": "sx"}, {"calculate": "-34*cos(datum.a)", "as": "sy"}, {"calculate": "datum.sx + datum.side*[2,15,12][datum.rn-1]", "as": "lx"}, {"calculate": "[-68,-52,-30][datum.rn-1]", "as": "ly"}, {"calculate": "(datum.sy + datum.ly + 8)/2", "as": "ey"}, {"calculate": "datum.lx - datum.side*2", "as": "vx"}, {"calculate": "[0,1,2,3]", "as": "pt"}, {"flatten": ["pt"]}, {"calculate": "datum.pt < 2 ? datum.sx : datum.vx", "as": "px"}, {"calculate": "datum.pt == 0 ? datum.sy : (datum.pt == 3 ? datum.ly + 8 : datum.ey)", "as": "py"}],
      "mark": {"type": "line", "color": "#000000", "strokeWidth": 1.3},
      "encoding": {"detail": {"field": "subset", "type": "nominal"}, "order": {"field": "pt", "type": "quantitative"}}},
     {"data": {"name": "replicons"},
      "transform": [{"filter": "datum.pie == 'pSF25509a'"}, {"calculate": "7", "as": "px"}, {"calculate": "64", "as": "py"}],
      "mark": {"type": "text", "font": "Liberation Sans", "fontWeight": "bold", "fontSize": 18, "baseline": "alphabetic", "lineBreak": " ", "lineHeight": 22, "color": "#70AD47"},
      "encoding": {"text": {"field": "kind", "type": "nominal"}}},
     {"data": {"name": "replicons"},
      "transform": [{"filter": "datum.pie == 'pSF25509a'"}, {"calculate": "'(' + datum.total + ')'", "as": "count"}, {"calculate": "3", "as": "px"}, {"calculate": "119", "as": "py"}],
      "mark": {"type": "text", "font": "Liberation Serif", "fontWeight": "bold", "fontSize": 21, "baseline": "alphabetic", "color": "#000000"},
      "encoding": {"text": {"field": "count", "type": "nominal"}}},
     {"data": {"name": "replicons"},
      "transform": [{"filter": "datum.pie == 'pSF25509a'"}, {"calculate": "3", "as": "px"}, {"calculate": "142", "as": "py"}],
      "mark": {"type": "text", "font": "Liberation Serif", "fontWeight": "bold", "fontSize": 21, "baseline": "alphabetic", "color": "#000000"},
      "encoding": {"text": {"field": "letter", "type": "nominal"}}}
    ]
   }
  ],
  "spacing": 0,
  "bounds": "flush",
  "resolve": {"scale": {"color": "independent"}}
 }
]
}
